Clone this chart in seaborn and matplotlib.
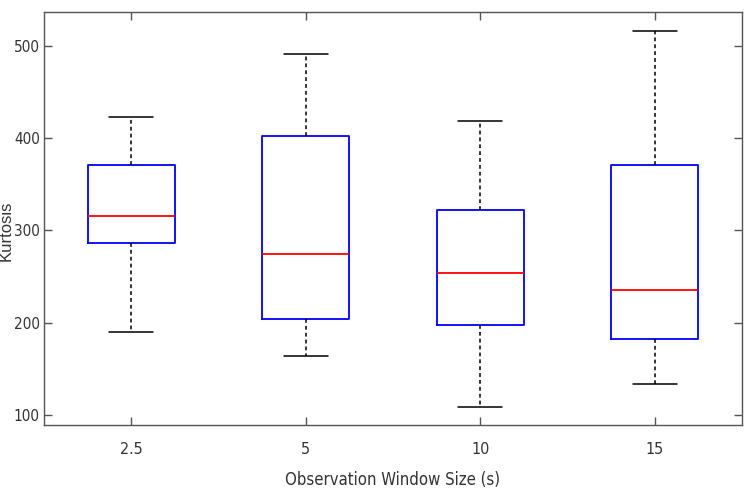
import numpy as np
import pandas as pd
import matplotlib
matplotlib.use("Agg")
import matplotlib.pyplot as plt
import seaborn as sns

# Five-number summaries (min, Q1, median, Q3, max)
windows = ["2.5", "5", "10", "15"]
w_low = [190, 164, 109, 134]
w_q1 = [286, 204, 198, 182]
w_med = [316, 274, 254, 235]
w_q3 = [371, 403, 322, 371]
w_high = [423, 491, 419, 516]
y_ticks = [100, 200, 300, 400, 500]

rows = []
for i, w in enumerate(windows):
    for v in (w_low[i], w_q1[i], w_med[i], w_q3[i], w_high[i]):
        rows.append({"window": w, "kurtosis": v})
df = pd.DataFrame(rows)

sns.set_style("white")
narrow = ["Liberation Sans Narrow", "DejaVu Sans"]
plt.rcParams["font.family"] = narrow
plt.rcParams["font.stretch"] = "condensed"

fig = plt.figure(figsize=(7.46, 4.93), dpi=100)
ax = fig.add_axes([44 / 746, (493 - 425) / 493, (742 - 44) / 746, (425 - 12) / 493])

sns.boxplot(
    data=df, x="window", y="kurtosis", order=windows, ax=ax,
    whis=(0, 100), width=0.5, fill=False, showfliers=False,
    boxprops=dict(color="#0000ff", linewidth=1.3),
    medianprops=dict(color="#ff0000", linewidth=1.3),
    whiskerprops=dict(color="black", linestyle=(0, (2.5, 2)), linewidth=1.1),
    capprops=dict(color="black", linewidth=1.1),
)

ax.set_xlim(-0.5, 3.5)
ax.set_ylim(89, 537)
ax.set_yticks(y_ticks)
ax.set_yticklabels([str(t) for t in y_ticks])

for s in ax.spines.values():
    s.set_visible(True)
    s.set_color("#555555")
    s.set_linewidth(1.0)

ax.tick_params(axis="both", direction="in", length=6, width=1.0, color="#555555",
               labelsize=11.5, labelcolor="#333333", top=True, right=True,
               left=True, bottom=True)
ax.tick_params(axis="x", pad=12)
ax.tick_params(axis="y", pad=3, labelsize=11)

ax.set_xlabel("Observation Window Size (s)", fontsize=12, color="#333333")
ax.xaxis.set_label_coords(0.5, -0.112)
ax.set_ylabel("Kurtosis", fontsize=12, color="#333333",
              family=["Liberation Sans", "DejaVu Sans"], fontstretch="normal",
              va="center")
ax.yaxis.set_label_coords(-37.5 / 698, 0.47)

fig.savefig("out.png", dpi=100)
